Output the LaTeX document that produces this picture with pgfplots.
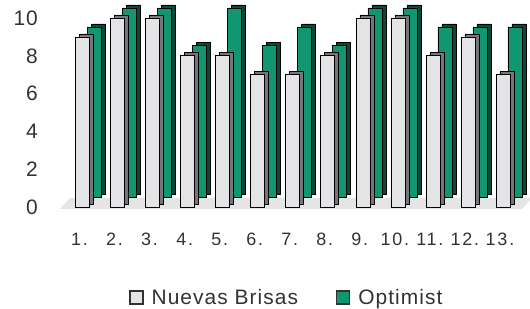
\documentclass[border=0pt]{standalone}
\usepackage{pgfplots}
\pgfplotsset{compat=1.18}
\usepackage{pgfplotstable}
\usepackage{fontspec}
\setmainfont{Liberation Sans}
\definecolor{optg}{RGB}{16,150,112}
\definecolor{optd}{RGB}{12,72,56}
\definecolor{nbf}{RGB}{228,228,231}
\definecolor{nbd}{RGB}{118,118,120}
\definecolor{txt}{RGB}{50,50,50}
\pgfplotstableread{
x nb op
1 9 9
2 10 10
3 10 10
4 8 8
5 8 10
6 7 8
7 7 9
8 8 8
9 10 10
10 10 10
11 8 9
12 9 9
13 7 9
}\data
\pgfplotsset{
  barax/.style={width=455.5bp,height=189bp,scale only axis,xmin=0.5,xmax=13.5,ymin=0,ymax=10,anchor=south west,clip=false},
  hidden/.style={barax,hide axis},
}
\begin{document}
\begin{tikzpicture}
\useasboundingbox (0,0) rectangle (530bp,309bp);
\fill[black!10] (60bp,100bp) -- (522bp,100bp) -- (532bp,111bp) -- (70bp,111bp) -- cycle;
% green depth
\begin{axis}[hidden, at={(81bp,115bp)}]
\addplot[ybar, bar width=14bp, bar shift=0pt, fill=optd, draw=black, line width=0.6pt] table[x=x,y=op]{\data};
\end{axis}
% green front
\begin{axis}[hidden, at={(77bp,112bp)}]
\addplot[ybar, bar width=14bp, bar shift=0pt, fill=optg, draw=black, line width=0.6pt] table[x=x,y=op]{\data};
\end{axis}
% gray depth
\begin{axis}[hidden, at={(69bp,105bp)}]
\addplot[ybar, bar width=14bp, bar shift=0pt, fill=nbd, draw=black, line width=0.6pt] table[x=x,y=nb]{\data};
\end{axis}
% gray front
\begin{axis}[barax, at={(65bp,102bp)},
  axis line style={draw=none}, major tick length=0pt,
  ytick={0,2,4,6,8,10},
  xtick={1,...,13},
  xticklabels={1.,2.,3.,4.,5.,6.,7.,8.,9.,10.,11.,12.,13.},
  /pgf/number format/assume math mode=true,
  yticklabel style={font=\fontsize{21}{23}\selectfont\addfontfeature{LetterSpace=4}, text=txt, inner sep=0pt, anchor=east, xshift=-27bp},
  xticklabel style={font=\fontsize{18}{20}\selectfont\addfontfeature{LetterSpace=10}, text=txt, inner sep=0pt, anchor=base, yshift=-38bp, xshift=-3bp},
  legend style={at={(0.487,-0.479)}, anchor=center, draw=none, fill=none, legend columns=2,
    font=\fontsize{21}{23}\selectfont\addfontfeature{LetterSpace=5}, text=txt,
    /tikz/every odd column/.append style={column sep=6bp},
    /tikz/every even column/.append style={column sep=36bp}},
  legend cell align=left,
]
\addplot[ybar, bar width=14bp, bar shift=0pt, fill=nbf, draw=black, line width=0.6pt, forget plot] table[x=x,y=nb]{\data};
\addlegendimage{legend image code/.code={\draw[fill=nbf,draw=txt,line width=1.3pt] (0bp,-6.5bp) rectangle (13bp,6.5bp);}}
\addlegendentry{Nuevas Brisas}
\addlegendimage{legend image code/.code={\draw[fill=optg,draw=txt,line width=1.3pt] (0bp,-6.5bp) rectangle (13bp,6.5bp);}}
\addlegendentry{Optimist}
\end{axis}
\end{tikzpicture}
\end{document}
